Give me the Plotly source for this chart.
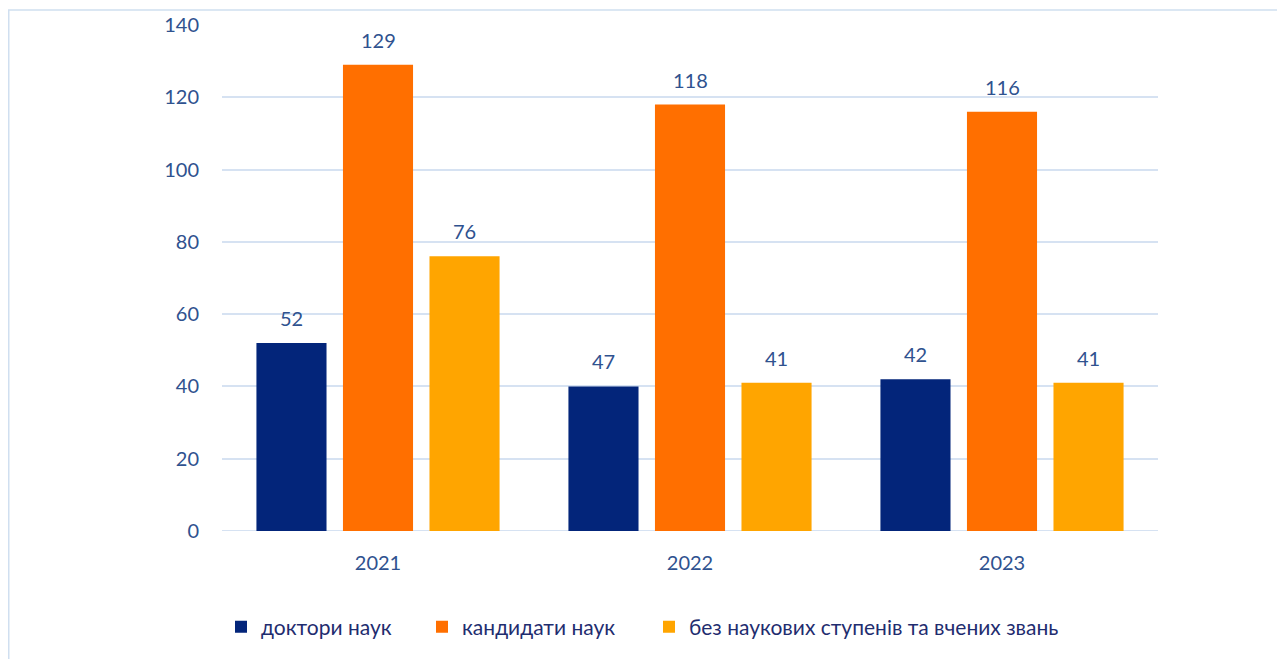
import plotly.graph_objects as go

years = ["2021", "2022", "2023"]
series_names = ["доктори наук", "кандидати наук", "без наукових ступенів та вчених звань"]
doctors = [52, 40, 42]
doctors_labels = ["52", "47", "42"]
candidates = [129, 118, 116]
candidates_labels = ["129", "118", "116"]
no_degree = [76, 41, 41]
no_degree_labels = ["76", "41", "41"]
y_ticks = [0, 20, 40, 60, 80, 100, 120, 140]

colors = ["#03257A", "#FF6F00", "#FFA500"]
label_color = "#2F528F"
legend_color = "#1F2D6F"
font_family = "Lato, 'Open Sans', sans-serif"

W, H = 1277, 651          # page has an 8px body margin
ML, MR, MT, MB = 214, 127, 17, 128
plot_w = W - ML - MR
plot_h = H - MT - MB
bargap = 0.168
slot = plot_w / len(years) * (1 - bargap) / 3

legend_ids = ["legend", "legend2", "legend3"]
legend_left_px = [221, 422, 649]   # page pixels of each legend box's left edge

fig = go.Figure()
all_vals = [doctors, candidates, no_degree]
all_labs = [doctors_labels, candidates_labels, no_degree_labels]
for i, (name, vals, labs, col) in enumerate(zip(series_names, all_vals, all_labs, colors)):
    fig.add_trace(go.Bar(
        x=years, y=vals, name=name, legend=legend_ids[i],
        marker=dict(color=col, line=dict(width=0)),
        hoverinfo="x+y+name",
    ))
    for j, (v, lab) in enumerate(zip(vals, labs)):
        fig.add_annotation(
            x=j, y=v, xref="x", yref="y", text=lab, showarrow=False,
            xshift=(i - 1) * slot, yshift=25, yanchor="middle", xanchor="center",
            font=dict(size=20, color=label_color, family=font_family),
        )

legend_common = dict(orientation="h", xanchor="left", yanchor="middle",
                     y=(531 - 627) / plot_h, itemwidth=30,
                     font=dict(size=21, color=legend_color, family=font_family),
                     bgcolor="rgba(0,0,0,0)", borderwidth=0)
legend_layout = {lid: dict(legend_common, x=(px - 8 - ML) / plot_w)
                 for lid, px in zip(legend_ids, legend_left_px)}

fig.update_layout(
    width=W, height=H,
    margin=dict(l=ML, r=MR, t=MT, b=MB, autoexpand=False),
    paper_bgcolor="white", plot_bgcolor="white",
    barmode="group", bargap=bargap, bargroupgap=0.19,
    font=dict(family=font_family, size=20, color=label_color),
    showlegend=True,
    yaxis=dict(range=[0, 140], tickvals=y_ticks, showgrid=True,
               gridcolor="#D6E2F2", gridwidth=2, zeroline=False,
               showline=False, ticks="", ticklabelstandoff=22,
               tickfont=dict(size=20, color=label_color)),
    xaxis=dict(type="category", categoryorder="array", categoryarray=years,
               range=[-0.5, len(years) - 0.5],
               showgrid=False, showline=False, ticks="",
               tickfont=dict(size=20, color=label_color), ticklabelstandoff=18),
    **legend_layout,
)
fig.add_shape(type="line", xref="paper", yref="y", x0=0, x1=1, y0=0, y1=0,
              line=dict(color="#D6E2F2", width=2), layer="below")
fig.add_shape(type="rect", xref="paper", yref="paper",
              x0=(0.75 - ML) / plot_w, x1=(W + 10 - ML) / plot_w,
              y0=(MT + plot_h - H - 10) / plot_h, y1=(MT + plot_h - 2) / plot_h,
              line=dict(color="#D0DFF0", width=1.5), layer="below")

fig.write_html("out.html")
